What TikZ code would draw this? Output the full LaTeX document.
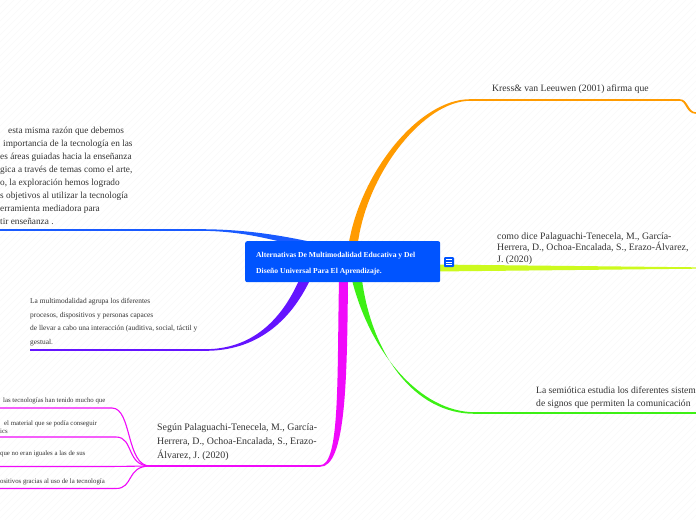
\documentclass[tikz,border=0pt]{standalone}
\usepackage{fontspec}
\setmainfont{Liberation Serif}
\usepackage{tikz}
\usetikzlibrary{calc}
\definecolor{boxblue}{RGB}{0,84,255}
\definecolor{brorange}{RGB}{255,155,0}
\definecolor{brblue}{RGB}{25,90,255}
\definecolor{brpurple}{RGB}{100,20,255}
\definecolor{brmagenta}{RGB}{240,10,250}
\definecolor{brgreen}{RGB}{60,240,20}
\definecolor{bryellow}{RGB}{205,250,30}
\definecolor{txtgray}{RGB}{51,51,51}
\tikzset{
  topic/.style={anchor=north west, inner sep=0pt, align=left, text=txtgray},
  subtopic/.style={anchor=base west, inner sep=0pt, text=txtgray,
    font=\fontsize{6.8}{8}\selectfont},
  twig/.style={brmagenta, line width=1.1pt, line cap=round}
}
\begin{document}
\begin{tikzpicture}[x=1pt,y=-1pt]
\useasboundingbox (0,0) rectangle (696,520);
\clip (0,0) rectangle (696,520);
\fill[white] (0,0) rectangle (696,520);
\foreach \i in {0,7,...,1220}
  \draw[black!4, line width=0.3pt] (\i-520,520) -- (\i,0);

% branches, tapering away from the centre
\fill[brorange] (349,242) .. controls (362,170) and (420,99.2) .. (470,99.2)
    -- (680,99.2) .. controls (688,99.2) and (688,112.3) .. (696,112.3)
    -- (696,113.8) .. controls (686,113.8) and (686,100.8) .. (680,100.8)
    -- (470,100.8) .. controls (424,101) and (368,172) .. (358,242) -- cycle;
\fill[brblue] (0,229.2) -- (200,229.2) .. controls (250,229.2) and (290,237) .. (325,245)
    -- (322,253) .. controls (288,244) and (250,230.8) .. (200,230.8) -- (0,230.8) -- cycle;
\fill[brpurple] (300,278) .. controls (282,320) and (252,349.2) .. (205,349.2)
    -- (30,349.2) -- (30,350.8) -- (205,350.8) .. controls (256,351) and (290,322) .. (310,280) -- cycle;
\fill[brmagenta] (339,280) .. controls (337,380) and (340,465.2) .. (320,465.2)
    -- (150,465.2) -- (150,466.8) -- (320,466.8) .. controls (346,467) and (347,380) .. (348,280) -- cycle;
\fill[brgreen] (352,280) .. controls (370,352) and (420,412.2) .. (475,412.2)
    -- (696,412.2) -- (696,413.8) -- (475,413.8) .. controls (414,414) and (372,354) .. (362,280) -- cycle;
\fill[bryellow] (435,264.5) -- (696,267.3) -- (696,268.7) -- (435,271.5) -- cycle;

% magenta twigs
\coordinate (fan) at (150,466);
\coordinate (t1) at (0,408);
\coordinate (t2) at (0,437);
\coordinate (t3) at (0,466.5);
\coordinate (t4) at (0,488.5);
\draw[twig] (fan) .. controls (126,466) and (132,408) .. (112,408) -- (t1);
\draw[twig] (fan) .. controls (126,466) and (134,437) .. (116,437) -- (t2);
\draw[twig] (fan) .. controls (130,466) and (130,466.5) .. (110,466.5) -- (t3);
\draw[twig] (fan) .. controls (126,466) and (134,488.5) .. (116,488.5) -- (t4);

% centre
\node[fill=boxblue, rounded corners=2pt, minimum width=195pt, minimum height=41pt,
  anchor=north west, inner sep=0pt] (main) at (245,241) {};
\node[anchor=north west, inner sep=0pt, align=left, text=white,
  font=\fontsize{7.6}{16}\selectfont\bfseries] (maintxt) at (256,252)
  {Alternativas De Multimodalidad Educativa y Del\\Diseño Universal Para El Aprendizaje.};
\node[fill=boxblue, rounded corners=1pt, minimum size=10pt, inner sep=0pt] (icon) at (449,262) {};
\foreach \dy in {-2.2,0,2.2}
  \draw[white, line width=0.8pt] ($(icon)+(-3,\dy)$) -- ($(icon)+(3,\dy)$);

% topics
\node[topic, font=\fontsize{9.7}{10}\selectfont] (kress) at (492,84)
  {Kress\& van Leeuwen (2001) afirma que};
\node[topic, font=\fontsize{9.8}{11.6}\selectfont] (dice) at (497,232)
  {como dice Palaguachi-Tenecela, M., García-\\Herrera, D., Ochoa-Encalada, S., Erazo-Álvarez,\\J. (2020)};
\node[topic, font=\fontsize{9.6}{13}\selectfont] (semio) at (536,387)
  {La semiótica estudia los diferentes sistemas\\de signos que permiten la comunicación};
\node[topic, font=\fontsize{9.9}{14}\selectfont] (segun) at (157,423)
  {Según Palaguachi-Tenecela, M., García-\\Herrera, D., Ochoa-Encalada, S., Erazo-\\Álvarez, J. (2020)};
\node[topic, font=\fontsize{7.4}{13.7}\selectfont] (multi) at (30,298)
  {La multimodalidad agrupa los diferentes\\procesos, dispositivos y personas capaces\\de llevar a cabo una interacción (auditiva, social, táctil y\\gestual.};
\node[topic, font=\fontsize{9.3}{13}\selectfont] (razon) at (0,127)
  {\hspace*{8pt}esta misma razón que debemos\\
   \hspace*{3pt}importancia de la tecnología en las\\
   es áreas guiadas hacia la enseñanza\\
   gica a través de temas como el arte,\\
   o, la exploración hemos logrado\\
   s objetivos al utilizar la tecnología\\
   erramienta mediadora para\\
   tir enseñanza .};

% twig labels
\node[subtopic] (s1) at (3,402) {las tecnologías han tenido mucho que};
\node[subtopic] (s2) at (4,425) {el material que se podía conseguir};
\node[subtopic] (s2b) at (0,433) {ics};
\node[subtopic] (s3) at (0,455) {que no eran iguales a las de sus};
\node[subtopic] (s4) at (0,483) {ositivos gracias al uso de la tecnología};
\end{tikzpicture}
\end{document}
